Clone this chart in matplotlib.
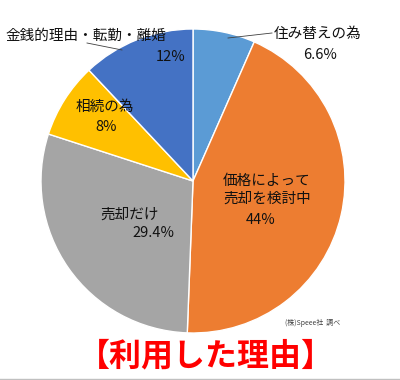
import matplotlib.pyplot as plt

plt.rcParams['font.family'] = ['Noto Sans CJK JP', 'DejaVu Sans']

# data
labels = ["住み替えの為", "価格によって\n売却を検討中", "売却だけ", "相続の為", "金銭的理由・転勤・離婚"]
values = [6.6, 44, 29.4, 8, 12]
pct_text = ["6.6%", "44%", "29.4%", "8%", "12%"]
colors = ["#5B9BD5", "#ED7D31", "#A5A5A5", "#FFC000", "#4472C4"]

fig = plt.figure(figsize=(4, 3.8), dpi=100)
ax = fig.add_axes([0, 0, 1, 1])

H = 380
ax.pie(values, colors=colors, startangle=90, counterclock=False,
       center=(193, H - 181), radius=152, frame=True,
       wedgeprops=dict(edgecolor='white', linewidth=1))
ax.set_xlim(0, 400)
ax.set_ylim(0, 380)
ax.set_aspect('equal')
ax.axis('off')

# label positions in pixel coords (x, y from top): name block, percent
name_pos = [(318, 34, 'center'), (223, 190, 'left'), (130, 215, 'center'),
            (105, 107, 'center'), (86, 36, 'center')]
pct_pos = [(320, 55), (261, 220), (153, 233), (106, 127), (171, 57)]
for lab, p, (x, y, ha), (px, py) in zip(labels, pct_text, name_pos, pct_pos):
    ax.text(x, H - y, lab, ha=ha, va='center', fontsize=10.5,
            linespacing=1.35, color='#111111')
    ax.text(px, H - py, p, ha='center', va='center', fontsize=10.5,
            color='#111111')

# leader lines
ax.plot([228, 272], [H - 38, H - 33], color='#404040', lw=0.6)
ax.plot([87, 122], [H - 43, H - 50], color='#404040', lw=0.6)

ax.text(285, H - 323, "(株)Speee社  調べ", fontsize=5, color='#404040',
        ha='left', va='center')

ax.text(206, H - 356, "【利用した理由】", fontsize=23, color='#FF0000',
        fontweight='bold', ha='center', va='center')

ax.plot([0, 400], [H - 378.5, H - 378.5], color='#C0C0C0', lw=1)

fig.savefig("out.png", dpi=100)
